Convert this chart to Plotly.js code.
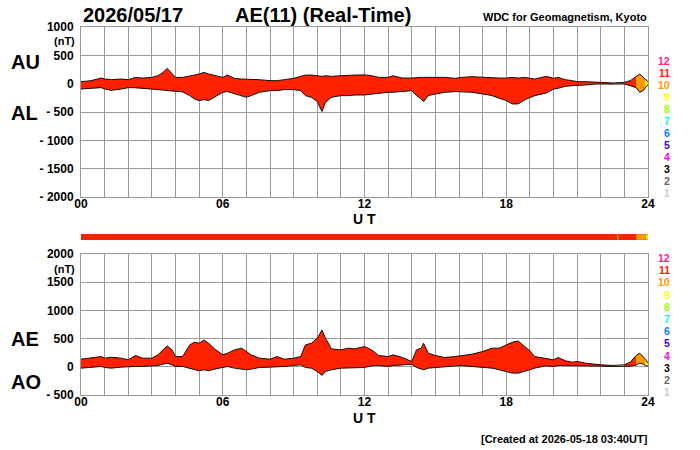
<!DOCTYPE html>
<html><head><meta charset="utf-8">
<script src="https://cdn.plot.ly/plotly-3.0.1.min.js"></script>
<style>html,body{margin:0;padding:0;background:#fff}#chart{width:700px;height:450px}</style>
</head><body><div id="chart"></div>
<script>
// ---- data (UT hours) ----
const hours = [
  0, 0.42, 0.86, 1, 1.28, 1.7, 2, 2.3, 2.6, 3, 3.26, 3.47, 3.65, 3.85,
  4, 4.3, 4.6, 4.8, 5, 5.2, 5.4, 5.65, 6, 6.2, 6.5, 6.8, 7, 7.2, 7.55,
  8, 8.3, 8.6, 9, 9.3, 9.5, 9.75, 10, 10.2, 10.35, 10.6, 11, 11.3, 11.6,
  12, 12.3, 12.6, 13, 13.2, 13.6, 14, 14.2, 14.4, 14.5, 14.7, 15, 15.4, 15.85,
  16.1, 16.55, 17, 17.4, 17.7, 18, 18.25, 18.5, 18.8, 19, 19.2, 19.7,
  20, 20.2, 20.5, 20.8, 21, 21.35, 21.8, 22, 22.5, 23, 23.25, 23.5, 23.65, 23.8, 23.9, 24
];
const au = [
  35, 53, 99, 82, 70, 82, 70, 111, 99, 111, 140, 199, 269, 170,
  111, 111, 129, 152, 170, 199, 170, 140, 111, 152, 94, 82, 82, 70, 70,
  53, 53, 70, 94, 129, 152, 152, 140, 129, 140, 129, 140, 152, 152,
  155, 140, 111, 111, 140, 99, 99, 111, 111, 111, 111, 111, 111, 94,
  111, 123, 111, 99, 99, 99, 111, 99, 111, 94, 82, 129,
  94, 111, 70, 53, 35, 35, 35, 23, 12, 23, 53, 120, 170, 111, 70, 35
];
const al = [
  -94, -82, -70, -94, -117, -94, -70, -70, -82, -94, -105, -111, -117, -134,
  -140, -145, -211, -269, -298, -281, -298, -240, -152, -140, -181, -211, -240, -211, -152,
  -123, -123, -105, -105, -123, -211, -240, -316, -491, -327, -240, -211, -211, -199,
  -199, -181, -164, -152, -152, -140, -123, -211, -269, -316, -211, -181, -152, -140,
  -140, -152, -181, -211, -257, -298, -357, -357, -281, -240, -211, -164,
  -94, -82, -47, -35, -35, -23, -6, -6, -12, -6, -35, -70, -152, -123, -60, -23
];
const ae = [
  135, 153, 182, 153, 170, 153, 124, 200, 153, 153, 212, 300, 370, 300,
  182, 182, 388, 435, 418, 476, 418, 318, 212, 241, 300, 330, 271, 212, 153,
  135, 182, 135, 153, 182, 388, 418, 506, 653, 506, 318, 300, 330, 318,
  359, 300, 200, 182, 212, 165, 94, 300, 330, 418, 241, 200, 165, 182,
  200, 224, 271, 330, 330, 388, 435, 459, 359, 282, 182, 153,
  124, 165, 106, 82, 94, 65, 35, 35, 24, 35, 82, 200, 241, 182, 130, 65
];
const ao = [
  -24, -12, 6, -12, -24, -6, 6, 6, 6, 18, 24, 47, 65, 35,
  6, 6, -24, -53, -71, -53, -71, -41, -12, 6, -24, -41, -53, -41, -12,
  -6, -6, 6, 24, 35, -12, -24, -82, -153, -82, -53, -24, -24, -12,
  -12, 18, 24, 6, 24, 35, 47, -12, -35, -53, -24, -12, 6, 24,
  24, 6, -12, -24, -53, -82, -112, -112, -82, -53, -24, 18,
  6, 24, 24, 24, 12, 12, 12, 12, 6, 6, 12, 30, 65, 47, 20, 12
];
// number of contributing stations per time segment
const stnStart = [0, 22.70, 22.74, 23.5, 23.9];
const stnEnd   = [22.70, 22.74, 23.5, 23.9, 24];
const stnCount = [11, 9, 11, 10, 9];
// tick / legend labels
const xTickVals = [0, 6, 12, 18, 24];
const xTickText = ['00', '06', '12', '18', '24'];
const yTopVals = [1000, 500, 0, -500, -1000, -1500, -2000];
const yTopText = ['1000', '500', '0', '- 500', '- 1000', '- 1500', '- 2000'];
const yBotVals = [2000, 1500, 1000, 500, 0, -500];
const yBotText = ['2000', '1500', '1000', '500', '0', '- 500'];
const legendCounts = [12, 11, 10, 9, 8, 7, 6, 5, 4, 3, 2, 1];

// ---- styles ----
const countColor = {12:'#ff1a8c', 11:'#ff2200', 10:'#ff9900', 9:'#ffff00', 8:'#99ff00',
  7:'#00ffcc', 6:'#0080ff', 5:'#3300ff', 4:'#ff00ff', 3:'#000000', 2:'#666666', 1:'#cccccc'};
const FONT = 'Liberation Sans, Arial, Helvetica, sans-serif';
const W = 700, H = 450;
const px = x => x / W, py = y => 1 - y / H;

const traces = [];
function bandTraces(upper, lower, xa, ya) {
  for (let s = 0; s < stnStart.length; s++) {
    const idx = hours.map((t, i) => i).filter(i => hours[i] >= stnStart[s] - 1e-9 && hours[i] <= stnEnd[s] + 1e-9);
    if (idx.length < 2) continue;
    const xs = idx.map(i => hours[i]).concat(idx.slice().reverse().map(i => hours[i]));
    const ys = idx.map(i => upper[i]).concat(idx.slice().reverse().map(i => lower[i]));
    traces.push({x: xs, y: ys, xaxis: xa, yaxis: ya, type: 'scatter', mode: 'lines',
      fill: 'toself', fillcolor: countColor[stnCount[s]], line: {width: 0}, hoverinfo: 'skip'});
  }
  [upper, lower].forEach(arr => traces.push({x: hours, y: arr, xaxis: xa, yaxis: ya,
    type: 'scatter', mode: 'lines', line: {color: '#1a0a05', width: 1}, hoverinfo: 'skip'}));
}
bandTraces(au, al, 'x', 'y');
bandTraces(ae, ao, 'x2', 'y2');
traces.push({type: 'bar', orientation: 'h', xaxis: 'x3', yaxis: 'y3',
  y: stnCount.map(() => 0), x: stnStart.map((s, i) => stnEnd[i] - s), base: stnStart,
  width: 1, marker: {color: stnCount.map(c => countColor[c]), line: {width: 0.6, color: 'rgba(140,70,20,0.7)'}},
  hoverinfo: 'skip'});

const gridCol = '#9a9a9a';
const tickFont = {family: FONT, size: 12, color: '#000', weight: 700};
function xAxis(anchor) {
  return {domain: [px(81), px(648)], range: [0, 24], anchor: anchor,
    tickmode: 'array', tickvals: xTickVals, ticktext: xTickText, tickfont: tickFont,
    showgrid: false, zeroline: false, showline: true, mirror: true, linecolor: gridCol, linewidth: 1,
    ticks: '', ticklabelstandoff: -4,
    minor: {dtick: 1, showgrid: true, gridcolor: gridCol, gridwidth: 1, ticks: ''},
    fixedrange: true};
}
const layout = {
  width: W, height: H, margin: {l: 0, r: 0, t: 0, b: 0},
  paper_bgcolor: '#fff', plot_bgcolor: '#fff', showlegend: false, barmode: 'overlay',
  font: {family: FONT, color: '#000'},
  xaxis: xAxis('y'),
  yaxis: {domain: [py(197), py(27)], range: [-2000, 1000], anchor: 'x',
    tickmode: 'array', tickvals: yTopVals, ticktext: yTopText, tickfont: tickFont,
    showgrid: true, gridcolor: gridCol, gridwidth: 1, zeroline: false, ticks: '', ticklabelstandoff: 4,
    showline: true, mirror: true, linecolor: gridCol},
  xaxis2: xAxis('y2'),
  yaxis2: {domain: [py(395), py(254)], range: [-500, 2000], anchor: 'x2',
    tickmode: 'array', tickvals: yBotVals, ticktext: yBotText, tickfont: tickFont,
    showgrid: true, gridcolor: gridCol, gridwidth: 1, zeroline: false, ticks: '', ticklabelstandoff: 4,
    showline: true, mirror: true, linecolor: gridCol},
  xaxis3: {domain: [px(81), px(648)], range: [0, 24], anchor: 'y3', visible: false},
  yaxis3: {domain: [py(240), py(234)], range: [-0.5, 0.5], anchor: 'x3', visible: false},
  annotations: []
};
function ann(text, x, y, size, xanchor, color) {
  layout.annotations.push({text: text, x: px(x), y: py(y), xref: 'paper', yref: 'paper',
    xanchor: xanchor || 'left', yanchor: 'middle', showarrow: false, borderpad: 0,
    font: {family: FONT, size: size, color: color || '#000', weight: 700}});
}
ann('2026/05/17', 82, 15, 20);
ann('AE(11) (Real-Time)', 234, 15, 20);
ann('WDC for Geomagnetism, Kyoto', 648, 17, 11, 'right');
ann('(nT)', 76, 41, 11, 'right');
ann('(nT)', 76, 269, 11, 'right');
ann('AU', 10, 62, 20);
ann('AL', 10, 113, 20);
ann('AE', 10, 339, 20);
ann('AO', 10, 382, 20);
ann('U T', 364, 219, 14, 'center');
ann('U T', 364, 418, 14, 'center');
ann('[Created at 2026-05-18 03:40UT]', 649, 439, 11, 'right');
legendCounts.forEach((c, i) => {
  ann(String(c), 671, 61 + i * 12, 10.5, 'right', countColor[c]);
  ann(String(c), 671, 258 + i * 12.2, 10.5, 'right', countColor[c]);
});

Plotly.newPlot('chart', traces, layout, {staticPlot: true, displayModeBar: false});
</script>
</body></html>
